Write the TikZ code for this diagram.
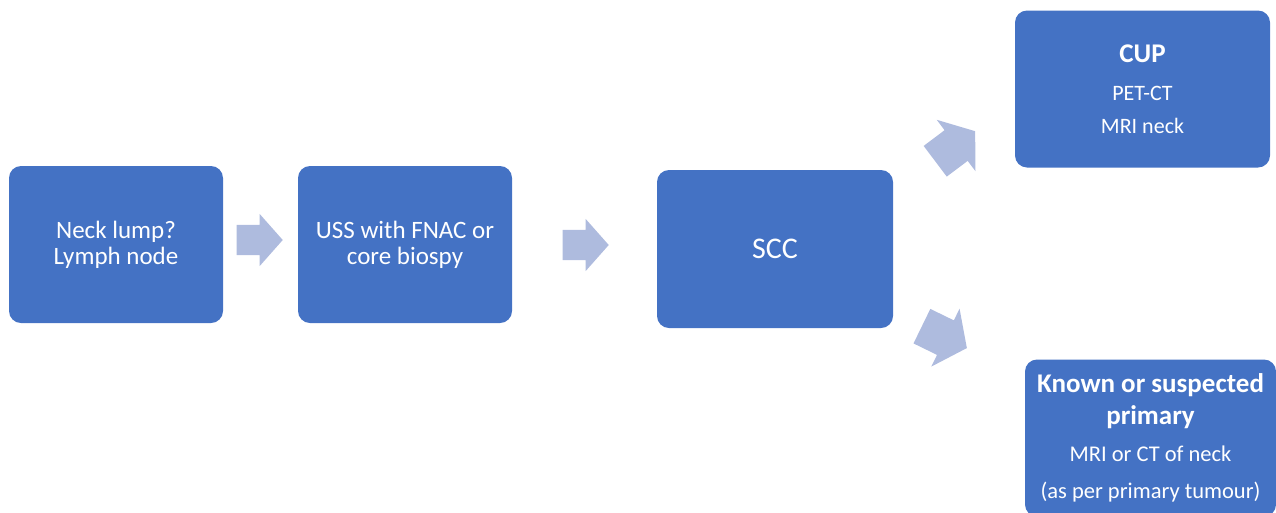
\documentclass[tikz,border=0pt]{standalone}
\usepackage{fontspec}
\setmainfont{Carlito}
\usetikzlibrary{shapes.arrows}
\definecolor{boxblue}{HTML}{4472C4}
\definecolor{arrowblue}{RGB}{174,187,222}
\tikzset{
  stagebox/.style={fill=boxblue, draw=none, rounded corners=12pt, text=white,
    align=center, inner sep=0pt},
  blockarrow/.style={single arrow, fill=arrowblue, draw=none,
    inner xsep=0pt, inner ysep=15pt,
    single arrow head extend=11pt, single arrow tip angle=97,
    minimum height=46pt},
  bigarrow/.style={blockarrow, inner ysep=19pt, single arrow head extend=13pt,
    single arrow tip angle=107, minimum height=50pt},
}
\begin{document}
\begin{tikzpicture}[x=1pt,y=-1pt]
\useasboundingbox (0,0) rectangle (1276,512);
\def\bodyfont{\fontsize{25}{26}\selectfont}
\def\headfont{\fontsize{27}{28}\selectfont\bfseries}

% boites principales
\node[stagebox, minimum width=214pt, minimum height=157pt, font=\bodyfont]
  (lump) at (116,244.5) {Neck lump?\\Lymph node};
\node[stagebox, minimum width=214pt, minimum height=157pt, font=\bodyfont]
  (uss) at (405,244.5) {USS with FNAC or\\core biospy};
\node[stagebox, minimum width=236pt, minimum height=158pt,
  font=\fontsize{30}{30}\selectfont] (scc) at (775,249) {SCC};

% deux issues
\node[stagebox, minimum width=255pt, minimum height=157pt,
  font=\fontsize{22}{30}\selectfont] (cup) at (1142.5,89)
  {{\headfont CUP}\\[8pt]PET-CT\\[3pt]MRI neck};
\node[stagebox, minimum width=251pt, minimum height=157pt,
  font=\fontsize{22.5}{30}\selectfont] (known) at (1150.5,438)
  {{\headfont Known or suspected}\\[2pt]{\headfont primary}\\[7pt]MRI or CT of neck\\[7pt]
   (as per primary tumour)};

% fleches
\node[blockarrow] (toUss) at (253,240) {};
\node[blockarrow] (toScc) at (579,245) {};
\node[bigarrow, rotate=37] (toCup) at (949.5,150.5) {};
\node[bigarrow, rotate=-26] (toKnown) at (938,334) {};
\end{tikzpicture}
\end{document}
